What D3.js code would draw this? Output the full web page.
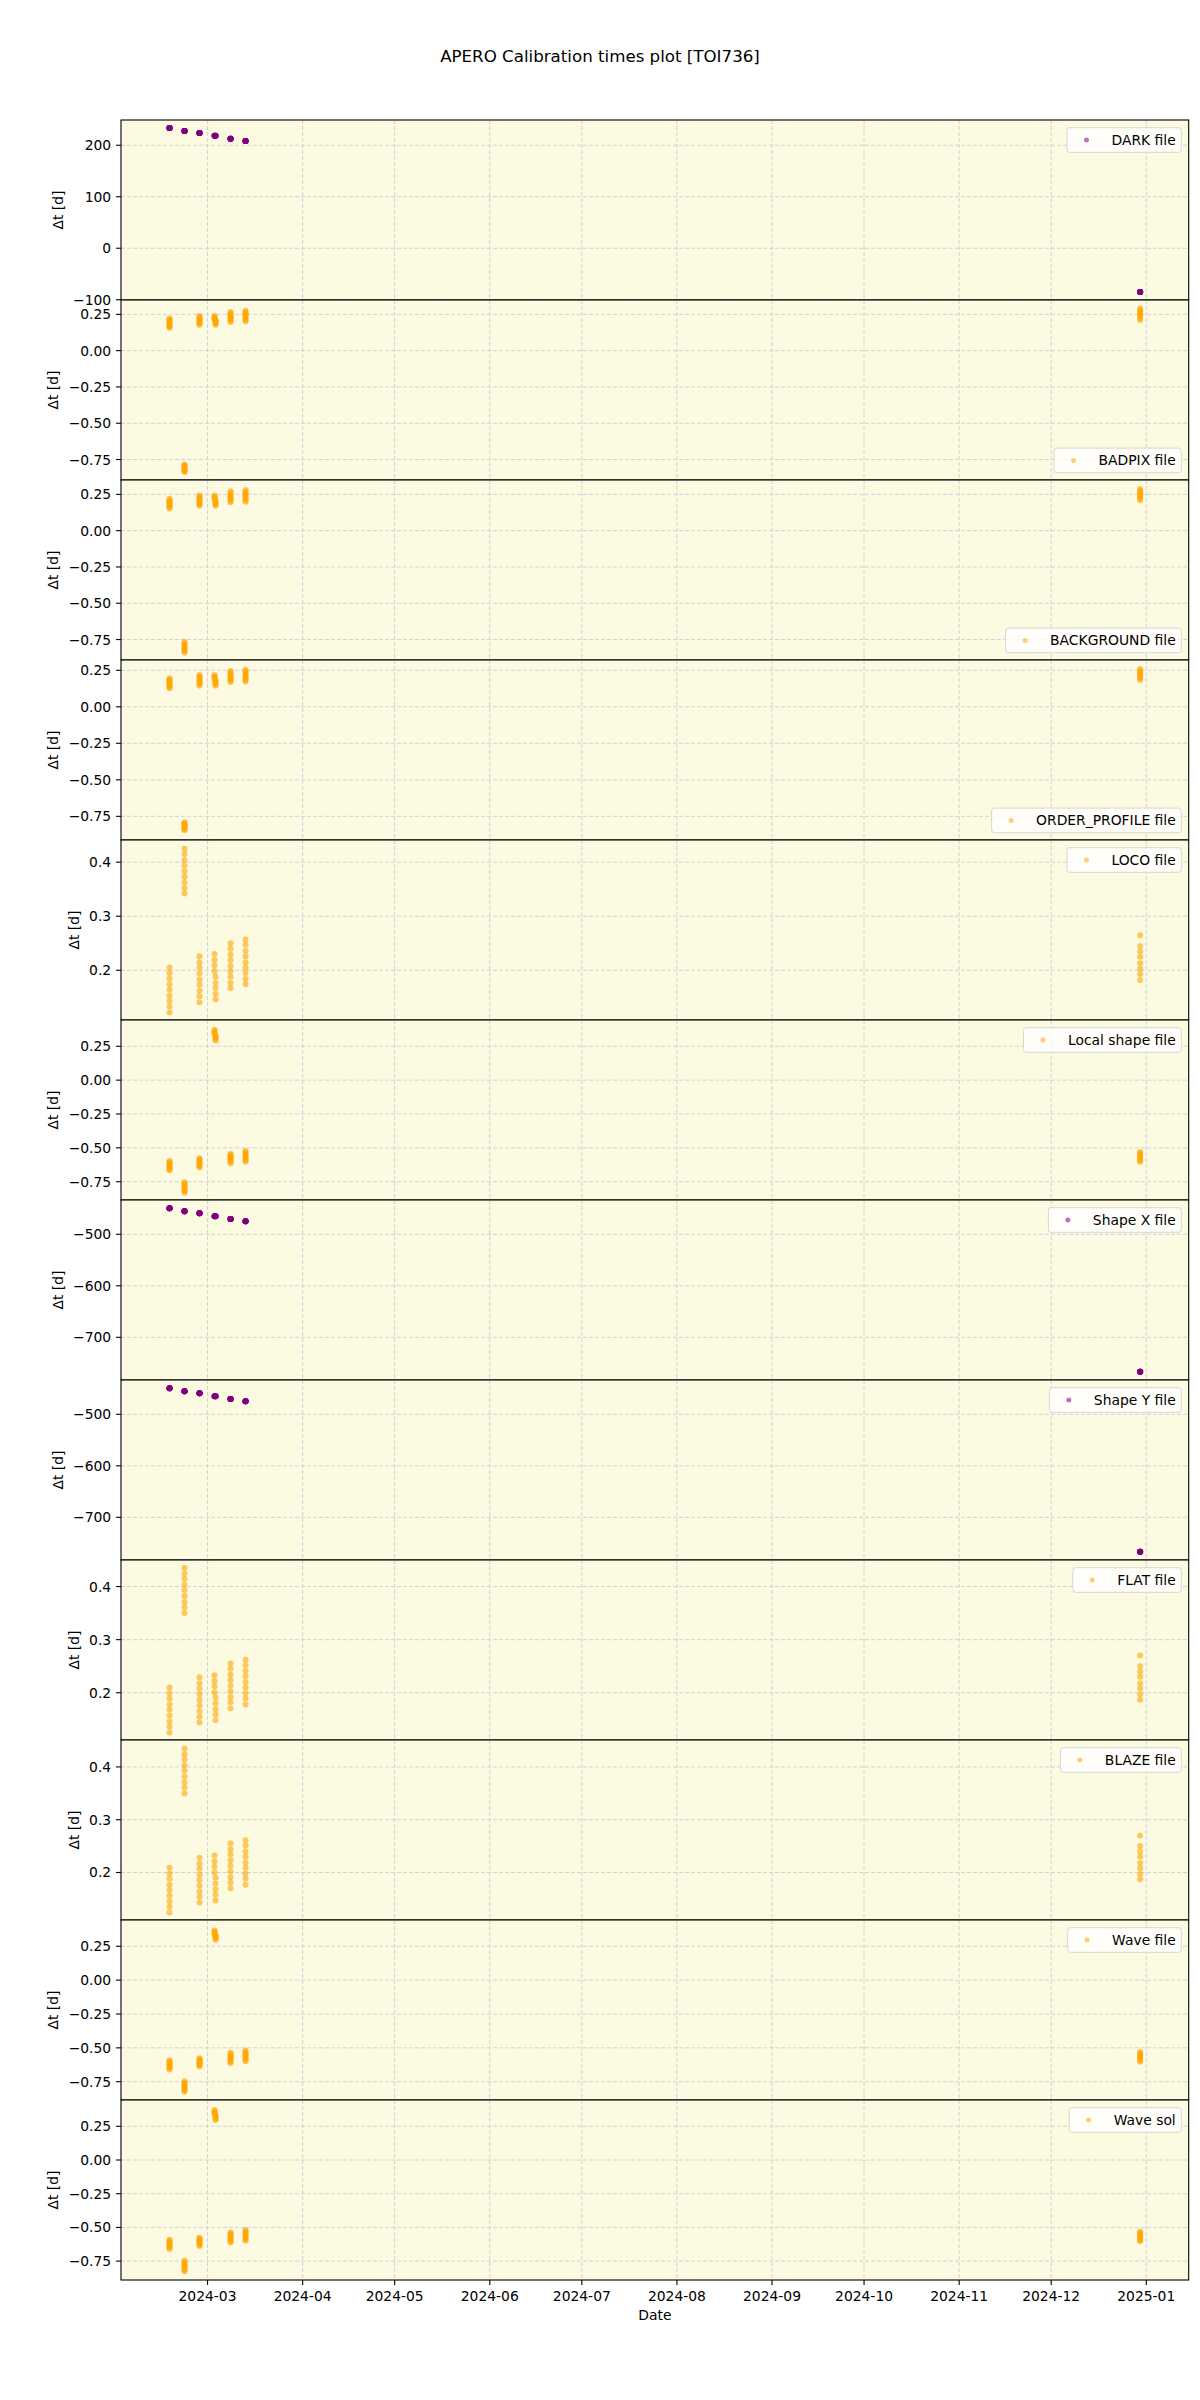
<!DOCTYPE html>
<html><head><meta charset="utf-8">
<script src="https://cdn.jsdelivr.net/npm/d3@7"></script>
<style>body{margin:0;background:#fff}svg{display:block}text{font-family:"DejaVu Sans",sans-serif;fill:#000}</style>
</head><body>
<svg id="chart" width="1200" height="2400"></svg>
<script>
// ---------------- DATA ----------------
const titleText = "APERO Calibration times plot [TOI736]";
const panelNames = ["DARK file","BADPIX file","BACKGROUND file","ORDER_PROFILE file","LOCO file","Local shape file","Shape X file","Shape Y file","FLAT file","BLAZE file","Wave file","Wave sol"];
const panelColors = ["purple","orange","orange","orange","orange","orange","purple","purple","orange","orange","orange","orange"];
const legendCorner = ["upper","lower","lower","lower","upper","upper","upper","upper","upper","upper","upper","upper"];
// observation nights (x positions)
const nightDates = ["2024-02-17T14:40","2024-02-22T12:00","2024-02-27T09:20","2024-03-03T06:45","2024-03-03T14:40","2024-03-08T12:00","2024-03-13T09:20","2024-12-30T00:00"];
const nightCounts = [9,9,9,4,5,9,9,8];

// single-valued calibrations (one value per night)
const darkValues   = [233.4, 227.6, 223.7, 218.4, 218.4, 212.6, 208.2, -85];
const shapeXValues = [-449.5, -455.3, -459.2, -465, -465, -470.3, -474.8, -767];
const shapeYValues = [-449.5, -455.3, -459.2, -465, -465, -470.3, -474.8, -767];

// multi-valued calibrations (list of values per night)
const badpixValues = [
 [0.222,0.214,0.206,0.198,0.190,0.181,0.173,0.165,0.157],
 [-0.785,-0.791,-0.797,-0.804,-0.810,-0.817,-0.823,-0.830,-0.836],
 [0.238,0.230,0.223,0.215,0.208,0.200,0.193,0.185,0.178],
 [0.238,0.231,0.224,0.217],
 [0.210,0.202,0.194,0.186,0.178],
 [0.266,0.257,0.249,0.240,0.231,0.223,0.214,0.206,0.197],
 [0.275,0.266,0.257,0.248,0.239,0.229,0.220,0.211,0.202],
 [0.290,0.279,0.268,0.257,0.246,0.235,0.224,0.212]];
const backgroundValues = [
 [0.220,0.212,0.203,0.195,0.187,0.178,0.170,0.161,0.153],
 [-0.766,-0.775,-0.784,-0.794,-0.803,-0.812,-0.821,-0.831,-0.840],
 [0.243,0.234,0.225,0.216,0.207,0.198,0.189,0.180,0.171],
 [0.243,0.234,0.225,0.216],
 [0.207,0.198,0.189,0.180,0.171],
 [0.271,0.262,0.252,0.243,0.233,0.224,0.214,0.205,0.195],
 [0.280,0.270,0.260,0.250,0.240,0.229,0.219,0.209,0.199],
 [0.287,0.276,0.265,0.254,0.243,0.232,0.221,0.210]];
const orderProfileValues = [
 [0.195,0.187,0.178,0.170,0.161,0.153,0.144,0.136,0.127],
 [-0.790,-0.797,-0.804,-0.811,-0.818,-0.825,-0.832,-0.839,-0.846],
 [0.217,0.208,0.199,0.190,0.181,0.172,0.163,0.154,0.145],
 [0.217,0.208,0.199,0.190],
 [0.181,0.172,0.163,0.154,0.145],
 [0.245,0.236,0.226,0.217,0.208,0.198,0.189,0.179,0.170],
 [0.254,0.244,0.234,0.224,0.214,0.203,0.193,0.183,0.173],
 [0.259,0.248,0.237,0.227,0.216,0.205,0.195,0.184]];
const locoValues = [
 [0.205,0.195,0.185,0.174,0.164,0.153,0.143,0.133,0.122],
 [0.425,0.415,0.404,0.394,0.383,0.373,0.363,0.352,0.342],
 [0.226,0.215,0.205,0.194,0.183,0.173,0.162,0.152,0.141],
 [0.230,0.219,0.209,0.198],
 [0.188,0.177,0.167,0.156,0.146],
 [0.250,0.240,0.229,0.219,0.208,0.198,0.188,0.177,0.167],
 [0.257,0.247,0.236,0.226,0.215,0.205,0.195,0.184,0.174],
 [0.265,0.245,0.235,0.225,0.213,0.203,0.193,0.182]];
const localShapeValues = [
 [-0.597,-0.606,-0.614,-0.623,-0.632,-0.640,-0.649,-0.657,-0.666],
 [-0.754,-0.764,-0.773,-0.783,-0.792,-0.802,-0.812,-0.821,-0.831],
 [-0.577,-0.585,-0.594,-0.602,-0.611,-0.619,-0.627,-0.636,-0.644],
 [0.372,0.362,0.352,0.342],
 [0.332,0.322,0.313,0.303,0.293],
 [-0.543,-0.552,-0.561,-0.570,-0.579,-0.587,-0.596,-0.605,-0.614],
 [-0.523,-0.533,-0.543,-0.553,-0.563,-0.572,-0.582,-0.592,-0.602],
 [-0.530,-0.540,-0.551,-0.561,-0.571,-0.582,-0.592,-0.602]];
const flatValues = [
 [0.210,0.199,0.189,0.178,0.168,0.157,0.146,0.136,0.125],
 [0.435,0.424,0.414,0.403,0.393,0.382,0.371,0.361,0.350],
 [0.229,0.218,0.208,0.197,0.187,0.176,0.165,0.155,0.144],
 [0.233,0.222,0.212,0.201],
 [0.191,0.180,0.169,0.159,0.148],
 [0.255,0.245,0.234,0.224,0.213,0.203,0.192,0.182,0.171],
 [0.262,0.252,0.241,0.231,0.220,0.210,0.199,0.189,0.178],
 [0.270,0.250,0.240,0.230,0.218,0.208,0.197,0.187]];
const blazeValues = [
 [0.209,0.198,0.188,0.177,0.167,0.156,0.145,0.135,0.124],
 [0.435,0.424,0.414,0.403,0.393,0.382,0.371,0.361,0.350],
 [0.228,0.217,0.207,0.196,0.186,0.175,0.164,0.154,0.143],
 [0.232,0.221,0.211,0.200],
 [0.190,0.179,0.168,0.158,0.147],
 [0.255,0.244,0.234,0.223,0.213,0.202,0.191,0.181,0.170],
 [0.261,0.251,0.240,0.230,0.219,0.209,0.198,0.188,0.177],
 [0.270,0.250,0.240,0.230,0.218,0.208,0.197,0.187]];
const waveValues = [
 [-0.591,-0.600,-0.608,-0.617,-0.626,-0.634,-0.643,-0.651,-0.660],
 [-0.746,-0.756,-0.766,-0.776,-0.786,-0.795,-0.805,-0.815,-0.825],
 [-0.576,-0.584,-0.591,-0.599,-0.607,-0.614,-0.622,-0.629,-0.637],
 [0.367,0.358,0.350,0.341],
 [0.332,0.324,0.315,0.307,0.298],
 [-0.537,-0.546,-0.556,-0.565,-0.574,-0.583,-0.593,-0.602,-0.611],
 [-0.519,-0.529,-0.539,-0.549,-0.559,-0.568,-0.578,-0.588,-0.598],
 [-0.531,-0.541,-0.551,-0.562,-0.572,-0.582,-0.593,-0.603]];
const waveSolValues = [
 [-0.591,-0.600,-0.608,-0.617,-0.626,-0.634,-0.643,-0.651,-0.660],
 [-0.746,-0.756,-0.766,-0.776,-0.786,-0.795,-0.805,-0.815,-0.825],
 [-0.576,-0.584,-0.591,-0.599,-0.607,-0.614,-0.622,-0.629,-0.637],
 [0.370,0.361,0.352,0.343],
 [0.333,0.324,0.315,0.305,0.296],
 [-0.537,-0.546,-0.556,-0.565,-0.574,-0.583,-0.593,-0.602,-0.611],
 [-0.519,-0.529,-0.539,-0.549,-0.559,-0.568,-0.578,-0.588,-0.598],
 [-0.531,-0.541,-0.551,-0.562,-0.572,-0.582,-0.593,-0.603]];

const panelValues = [darkValues, badpixValues, backgroundValues, orderProfileValues, locoValues, localShapeValues,
  shapeXValues, shapeYValues, flatValues, blazeValues, waveValues, waveSolValues];

// y-axis limits and tick labels
const yLimits = [[-100.5,249.0],[-0.891,0.349],[-0.891,0.349],[-0.912,0.3205],[0.108,0.441],[-0.885,0.444],
  [-782.9,-433.4],[-782.9,-433.4],[0.111,0.450],[0.110,0.451],[-0.885,0.444],[-0.89,0.445]];
const tickQuarter = [-0.75,-0.5,-0.25,0,0.25];
const tickTenth = [0.2,0.3,0.4];
const tickHundredsDark = [-100,0,100,200];
const tickHundredsShape = [-700,-600,-500];
const yTicks = [tickHundredsDark,tickQuarter,tickQuarter,tickQuarter,tickTenth,tickQuarter,
  tickHundredsShape,tickHundredsShape,tickTenth,tickTenth,tickQuarter,tickQuarter];
const yFormats = ["d",".2f",".2f",".2f",".1f",".2f","d","d",".1f",".1f",".2f",".2f"];
const yLabel = "Δt [d]";
const xLabel = "Date";

// ---------------- LAYOUT ----------------
const svg = d3.select("#chart");
const L = 121, R = 1188.7, T = 120, PH = 180;
const FS = 13.89;
const bgColor = "#fcfae1";
const gridColor = "#d2d2da";

const parse = d3.utcParse("%Y-%m-%dT%H:%M");
const nights = nightDates.map(parse);
const ext = d3.extent(nights);
const pad = (ext[1] - ext[0]) * 0.05;
const x = d3.scaleUtc().domain([new Date(+ext[0] - pad), new Date(+ext[1] + pad)]).range([L, R]);
const monthTicks = d3.utcMonth.range(d3.utcMonth.ceil(x.domain()[0]), x.domain()[1]);

svg.append("text").attr("x", 600).attr("y", 61.5).attr("text-anchor", "middle")
  .style("font-size", "16.67px").text(titleText);

panelNames.forEach((name, i) => {
  const y0 = T + i * PH;
  const y = d3.scaleLinear().domain(yLimits[i]).range([y0 + PH, y0]);
  const g = svg.append("g");
  g.append("rect").attr("x", L).attr("y", y0).attr("width", R - L).attr("height", PH).attr("fill", bgColor);
  // grid
  g.selectAll(".gx").data(monthTicks).join("line")
    .attr("x1", d => x(d)).attr("x2", d => x(d)).attr("y1", y0).attr("y2", y0 + PH)
    .attr("stroke", gridColor).attr("stroke-width", 1).attr("stroke-dasharray", "4,2");
  g.selectAll(".gy").data(yTicks[i]).join("line")
    .attr("x1", L).attr("x2", R).attr("y1", d => y(d)).attr("y2", d => y(d))
    .attr("stroke", gridColor).attr("stroke-width", 1).attr("stroke-dasharray", "4,2");
  // points
  const vals = panelValues[i];
  const pts = [];
  vals.forEach((v, k) => {
    if (Array.isArray(v)) v.forEach(val => pts.push([nights[k], val]));
    else for (let c = 0; c < nightCounts[k]; c++) pts.push([nights[k], v]);
  });
  g.append("g").selectAll("circle").data(pts).join("circle")
    .attr("cx", d => x(d[0])).attr("cy", d => y(d[1])).attr("r", 3)
    .attr("fill", panelColors[i]).attr("fill-opacity", 0.6);
  // frame
  g.append("rect").attr("x", L).attr("y", y0).attr("width", R - L).attr("height", PH)
    .attr("fill", "none").attr("stroke", "#000").attr("stroke-width", 1.1);
  // y axis
  const fmt = d3.format(yFormats[i]);
  const ta = g.append("g");
  ta.selectAll("line").data(yTicks[i]).join("line")
    .attr("x1", L - 4.9).attr("x2", L).attr("y1", d => y(d)).attr("y2", d => y(d))
    .attr("stroke", "#000").attr("stroke-width", 1.1);
  const tl = ta.append("g");
  tl.selectAll("text").data(yTicks[i]).join("text")
    .attr("x", L - 9.8).attr("y", d => y(d)).attr("dy", "0.36em").attr("text-anchor", "end")
    .style("font-size", FS + "px").text(d => fmt(d));
  const bb = tl.node().getBBox();
  const lx = bb.x - 10.5;
  g.append("text").attr("transform", `translate(${lx},${y0 + PH / 2}) rotate(-90)`)
    .attr("text-anchor", "middle").style("font-size", FS + "px").text(yLabel);
  // legend
  const lg = g.append("g");
  const txt = lg.append("text").style("font-size", FS + "px").text(name);
  const tw = txt.node().getComputedTextLength();
  const bw = FS * (0.4 + 2 + 0.8 + 0.4) + tw, bh = 24.6;
  const bx = R - 7.4 - bw;
  const by = legendCorner[i] === "upper" ? y0 + 7.7 : y0 + PH - 7.3 - bh;
  lg.insert("rect", "text").attr("x", bx).attr("y", by).attr("width", bw).attr("height", bh)
    .attr("rx", 2.8).attr("fill", "#fff").attr("fill-opacity", 0.8).attr("stroke", "#d6d6d6").attr("stroke-width", 1);
  lg.append("circle").attr("cx", bx + FS * 0.4 + FS).attr("cy", by + bh / 2).attr("r", 2.5)
    .attr("fill", panelColors[i]).attr("fill-opacity", 0.55);
  txt.attr("x", bx + FS * (0.4 + 2 + 0.8)).attr("y", by + bh / 2).attr("dy", "0.36em");
});

// bottom x axis
const yb = T + panelNames.length * PH;
const xa = svg.append("g");
xa.selectAll("line").data(monthTicks).join("line")
  .attr("x1", d => x(d)).attr("x2", d => x(d)).attr("y1", yb).attr("y2", yb + 4.9)
  .attr("stroke", "#000").attr("stroke-width", 1.1);
xa.selectAll("text").data(monthTicks).join("text")
  .attr("x", d => x(d)).attr("y", yb + 21).attr("text-anchor", "middle")
  .style("font-size", FS + "px").text(d3.utcFormat("%Y-%m"));
svg.append("text").attr("x", (L + R) / 2).attr("y", yb + 40).attr("text-anchor", "middle")
  .style("font-size", FS + "px").text(xLabel);
</script>
</body></html>
